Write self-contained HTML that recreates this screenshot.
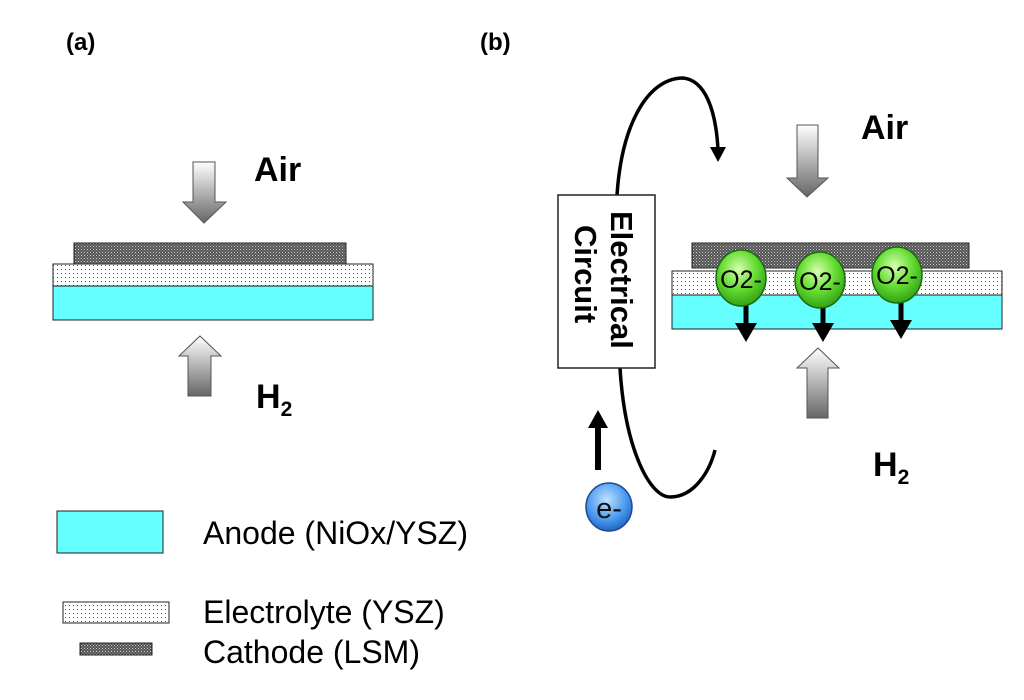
<!DOCTYPE html>
<html><head><meta charset="utf-8"><style>body{margin:0;background:#fff}svg{display:block}text{font-family:"Liberation Sans",Arial,sans-serif}</style></head><body>
<svg width="1024" height="700" viewBox="0 0 1024 700" xmlns="http://www.w3.org/2000/svg">
<defs>
<pattern id="dot" width="4" height="4" patternUnits="userSpaceOnUse"><rect width="4" height="4" fill="#fff"/><rect x="1" y="1" width="1" height="1" fill="#555"/></pattern>
<pattern id="hatch" width="3" height="3" patternUnits="userSpaceOnUse"><rect width="3" height="3" fill="#555"/><rect x="0" y="0" width="1" height="1" fill="#ccc"/><rect x="1.5" y="1.5" width="1" height="1" fill="#aaa"/></pattern>
<linearGradient id="gd" x1="0" y1="0" x2="0" y2="1"><stop offset="0" stop-color="#fff"/><stop offset="1" stop-color="#666"/></linearGradient>
<linearGradient id="gu" x1="0" y1="0" x2="0" y2="1"><stop offset="0" stop-color="#fff"/><stop offset="1" stop-color="#666"/></linearGradient>
<radialGradient id="gr" cx="0.45" cy="0.35" r="0.7"><stop offset="0" stop-color="#d8ffb0"/><stop offset="0.5" stop-color="#66dd33"/><stop offset="1" stop-color="#2a9a10"/></radialGradient>
<radialGradient id="bl" cx="0.45" cy="0.35" r="0.7"><stop offset="0" stop-color="#bde0ff"/><stop offset="0.6" stop-color="#4a9af0"/><stop offset="1" stop-color="#1a5ab8"/></radialGradient>
</defs>
<text x="66" y="50" font-size="24" font-weight="bold">(a)</text>
<text x="480" y="50" font-size="24" font-weight="bold">(b)</text>
<!-- panel a -->
<polygon points="193,162 215,162 215,202 226,202 204,223 183,202 193,202" fill="url(#gd)" stroke="#555" stroke-width="1"/>
<text x="254" y="181" font-size="34" font-weight="bold">Air</text>
<rect x="74" y="243" width="272" height="21" fill="url(#hatch)" stroke="#222"/>
<rect x="53" y="264" width="320" height="22" fill="url(#dot)" stroke="#222"/>
<rect x="53" y="286" width="320" height="34" fill="#66ffff" stroke="#222"/>
<polygon points="200,336 221,356 211,356 211,396 188,396 188,356 179,356" fill="url(#gu)" stroke="#555" stroke-width="1"/>
<text x="256" y="408" font-size="34" font-weight="bold">H<tspan font-size="21" dy="8">2</tspan></text>
<!-- legend -->
<rect x="57" y="511" width="106" height="42" fill="#66ffff" stroke="#222"/>
<text x="203" y="544" font-size="32">Anode (NiOx/YSZ)</text>
<rect x="63" y="602" width="106" height="21" fill="url(#dot)" stroke="#222"/>
<text x="203" y="623" font-size="32">Electrolyte (YSZ)</text>
<rect x="80" y="643" width="72" height="12" fill="url(#hatch)" stroke="#222"/>
<text x="203" y="663" font-size="32">Cathode (LSM)</text>
<!-- panel b -->
<path d="M617,195 C622,120 650,78 683,78 C705,80 716,110 718,150" fill="none" stroke="#000" stroke-width="3.5"/>
<polygon points="710,147 726,147 718,162" fill="#000"/>
<path d="M620,368 C625,450 650,497 670,497 C695,497 710,470 715,450" fill="none" stroke="#000" stroke-width="3.5"/>
<rect x="558" y="195" width="97" height="173" fill="#fff" stroke="#222" stroke-width="1.5"/>
<text transform="translate(611,211) rotate(90)" font-size="31" font-weight="bold">Electrical</text>
<text transform="translate(575,225) rotate(90)" font-size="31" font-weight="bold">Circuit</text>
<polygon points="797,125 818,125 818,178 828,178 807,197 787,178 797,178" fill="url(#gd)" stroke="#555"/>
<text x="861" y="139" font-size="34" font-weight="bold">Air</text>
<rect x="692" y="243" width="277" height="25" fill="url(#hatch)" stroke="#222"/>
<rect x="672" y="271" width="330" height="24" fill="url(#dot)" stroke="#222"/>
<rect x="672" y="295" width="330" height="34" fill="#66ffff" stroke="#222"/>
<g stroke="#000" stroke-width="5" fill="#000">
<line x1="746" y1="300" x2="746" y2="328"/><line x1="823" y1="300" x2="823" y2="328"/><line x1="901" y1="300" x2="901" y2="326"/>
</g>
<polygon points="735,323 757,323 746,342" fill="#000"/>
<polygon points="812,323 834,323 823,342" fill="#000"/>
<polygon points="890,320 912,320 901,339" fill="#000"/>
<g stroke="#1a6a10" stroke-width="1.5">
<ellipse cx="741" cy="278" rx="25" ry="28" fill="url(#gr)"/>
<ellipse cx="820" cy="280" rx="25" ry="28" fill="url(#gr)"/>
<ellipse cx="897" cy="275" rx="25" ry="28" fill="url(#gr)"/>
</g>
<text x="741" y="288" font-size="25" text-anchor="middle">O2-</text>
<text x="820" y="290" font-size="25" text-anchor="middle">O2-</text>
<text x="897" y="284" font-size="25" text-anchor="middle">O2-</text>
<polygon points="818,348 839,368 828,368 828,418 807,418 807,368 797,368" fill="url(#gu)" stroke="#555"/>
<text x="873" y="476" font-size="34" font-weight="bold">H<tspan font-size="21" dy="8">2</tspan></text>
<line x1="598" y1="470" x2="598" y2="425" stroke="#000" stroke-width="6"/>
<polygon points="588,428 608,428 598,410" fill="#000"/>
<ellipse cx="609" cy="507" rx="23" ry="24" fill="url(#bl)" stroke="#1a4a90" stroke-width="1.5"/>
<text x="609" y="518" font-size="29" text-anchor="middle" fill="#111">e-</text>
</svg>
</body></html>
